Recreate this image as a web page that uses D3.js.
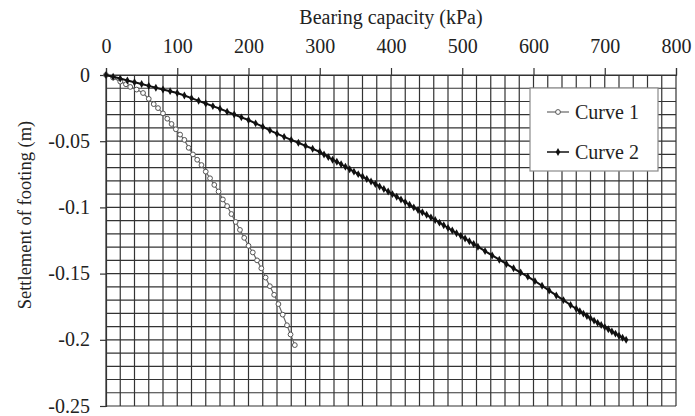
<!DOCTYPE html>
<html>
<head>
<meta charset="utf-8">
<script src="https://cdn.jsdelivr.net/npm/d3@7"></script>
<style>
  html, body { margin: 0; padding: 0; background: #fff; }
  svg { display: block; }
  text { font-family: "Liberation Serif", "Times New Roman", serif; fill: #222; }
</style>
</head>
<body>
<svg id="chart" width="695" height="416"></svg>
<script>
// ---- data ----
const xTicks = [0, 100, 200, 300, 400, 500, 600, 700, 800];
const yTicks = [0, -0.05, -0.1, -0.15, -0.2, -0.25];
const xTitle = "Bearing capacity (kPa)";
const yTitle = "Settlement of footing (m)";
const seriesNames = ["Curve 1", "Curve 2"];

const curve1X = [0, 10, 20, 28, 34, 43, 52, 60, 67, 73, 80, 86, 92, 98, 104, 110, 116, 122, 128, 134, 140, 146, 152, 158, 164, 170, 176, 182, 188, 194, 200, 206, 212, 218, 224, 230, 236, 242, 248, 254, 259, 265];
const curve1Y = [0, -0.002, -0.005, -0.007, -0.009, -0.011, -0.0136, -0.018, -0.022, -0.025, -0.029, -0.033, -0.037, -0.041, -0.045, -0.049, -0.055, -0.060, -0.064, -0.068, -0.073, -0.078, -0.083, -0.088, -0.094, -0.099, -0.105, -0.111, -0.117, -0.123, -0.129, -0.134, -0.140, -0.146, -0.153, -0.1595, -0.166, -0.173, -0.181, -0.189, -0.196, -0.204];

const curve2X = [0, 10, 20, 30, 40, 50, 60, 70, 80, 90, 100, 110, 120, 130, 140, 150, 160, 170, 180, 190, 200, 210, 220, 230, 240, 250, 260, 270, 280, 290, 300,
  306, 312, 318, 324, 330, 336, 342, 348, 354, 360, 366, 372, 378, 384, 390, 396, 402, 408, 414, 420, 426, 432, 438, 444, 450, 456, 462, 468, 474, 480, 486, 492, 498, 504, 510, 516, 522,
  532, 542, 552, 562, 572, 582, 592, 602, 612, 622, 632, 642, 652, 660, 665, 670, 675, 680, 685, 690, 695, 700, 705, 710, 715, 720, 725, 730];
const curve2Y = [0, -0.0013, -0.0027, -0.0041, -0.0055, -0.0068, -0.0082, -0.0096, -0.0109, -0.0122, -0.0136, -0.0155, -0.0175, -0.0195, -0.0215, -0.0235, -0.0255, -0.0277, -0.0298, -0.032, -0.034, -0.0365, -0.039, -0.0418, -0.0443, -0.0467, -0.049, -0.0512, -0.0535, -0.0557, -0.058,
  -0.060, -0.062, -0.064, -0.0655, -0.0674, -0.0693, -0.0712, -0.073, -0.0749, -0.0767, -0.0786, -0.0804, -0.0823, -0.0842, -0.0861, -0.088, -0.090, -0.092, -0.094, -0.096, -0.098, -0.100, -0.102, -0.1037, -0.1056, -0.1075, -0.1095, -0.1115, -0.1135, -0.1155, -0.1175, -0.1195, -0.1215, -0.1235, -0.1256, -0.1276, -0.1297,
  -0.133, -0.1363, -0.1395, -0.1427, -0.146, -0.1492, -0.1523, -0.1557, -0.1592, -0.1628, -0.1665, -0.170, -0.1737, -0.1766, -0.1784, -0.1802, -0.182, -0.1838, -0.1855, -0.1872, -0.1888, -0.1904, -0.192, -0.1937, -0.1953, -0.1969, -0.1985, -0.2];

// ---- layout ----
const svg = d3.select("#chart");
const pLeft = 106, pRight = 676, pTop = 75, pBottom = 406;

const x = d3.scaleLinear().domain([0, 800]).range([pLeft, pRight]);
const y = d3.scaleLinear().domain([0, -0.25]).range([pTop, pBottom]);

const gridColor = "#333";

// grid
const g = svg.append("g");
g.selectAll("line.vg").data(d3.range(0, 801, 20)).join("line")
  .attr("x1", d => x(d)).attr("x2", d => x(d))
  .attr("y1", pTop).attr("y2", pBottom)
  .attr("stroke", gridColor).attr("stroke-width", 1.2);
g.selectAll("line.hg").data(d3.range(0, 26, 1).map(i => -i * 0.01)).join("line")
  .attr("x1", pLeft).attr("x2", pRight)
  .attr("y1", d => y(d)).attr("y2", d => y(d))
  .attr("stroke", gridColor).attr("stroke-width", 1.2);

// axes
const xAxis = svg.append("g").attr("transform", `translate(0,${pTop})`)
  .call(d3.axisTop(x).tickValues(xTicks).tickSize(7).tickPadding(15).tickFormat(d3.format("d")));
const yAxis = svg.append("g").attr("transform", `translate(${pLeft},0)`)
  .call(d3.axisLeft(y).tickValues(yTicks).tickSize(6).tickPadding(10).tickFormat(d => d === 0 ? "0" : String(d)));
[xAxis, yAxis].forEach(a => {
  a.select(".domain").attr("stroke", gridColor).attr("stroke-width", 1.2);
  a.selectAll(".tick line").attr("stroke", gridColor).attr("stroke-width", 1.2);
  a.selectAll(".tick text").attr("font-family", "Liberation Serif, serif").attr("font-size", 20).attr("fill", "#222");
});
yAxis.selectAll(".tick text").attr("dy", "0.3em");

// titles
svg.append("text").attr("x", (pLeft + pRight) / 2).attr("y", 24)
  .attr("text-anchor", "middle").attr("font-size", 20).text(xTitle);
svg.append("text").attr("transform", "translate(31,215) rotate(-90)")
  .attr("text-anchor", "middle").attr("font-size", 18.5).text(yTitle);

// series
const line = d3.line().x(d => x(d[0])).y(d => y(d[1]));
const c1 = curve1X.map((v, i) => [v, curve1Y[i]]);
const c2 = curve2X.map((v, i) => [v, curve2Y[i]]);

svg.append("path").datum(c1).attr("d", line)
  .attr("fill", "none").attr("stroke", "#666").attr("stroke-width", 1.2);
svg.append("g").selectAll("circle").data(c1).join("circle")
  .attr("cx", d => x(d[0])).attr("cy", d => y(d[1])).attr("r", 2.4)
  .attr("fill", "#fff").attr("stroke", "#555").attr("stroke-width", 1);

svg.append("path").datum(c2).attr("d", line)
  .attr("fill", "none").attr("stroke", "#111").attr("stroke-width", 2);
const diamond = d3.symbol().type(d3.symbolDiamond).size(18);
svg.append("g").selectAll("path").data(c2).join("path")
  .attr("transform", d => `translate(${x(d[0])},${y(d[1])})`)
  .attr("d", diamond).attr("fill", "#111");

// legend
const lg = svg.append("g");
lg.append("rect").attr("x", 530).attr("y", 88).attr("width", 128).attr("height", 83)
  .attr("fill", "#fff").attr("stroke", "#8a8a8a").attr("stroke-width", 1.2);
const rows = [112, 152];
seriesNames.forEach((name, i) => {
  const yy = rows[i];
  lg.append("line").attr("x1", 547).attr("x2", 569).attr("y1", yy).attr("y2", yy)
    .attr("stroke", i === 0 ? "#666" : "#111").attr("stroke-width", i === 0 ? 1.2 : 1.5);
  if (i === 0) {
    lg.append("circle").attr("cx", 558).attr("cy", yy).attr("r", 2.4)
      .attr("fill", "#fff").attr("stroke", "#555").attr("stroke-width", 1);
  } else {
    lg.append("path").attr("transform", `translate(558,${yy})`).attr("d", diamond).attr("fill", "#111");
  }
  lg.append("text").attr("x", 575).attr("y", yy + 7).attr("font-size", 20).text(name);
});
</script>
</body>
</html>
